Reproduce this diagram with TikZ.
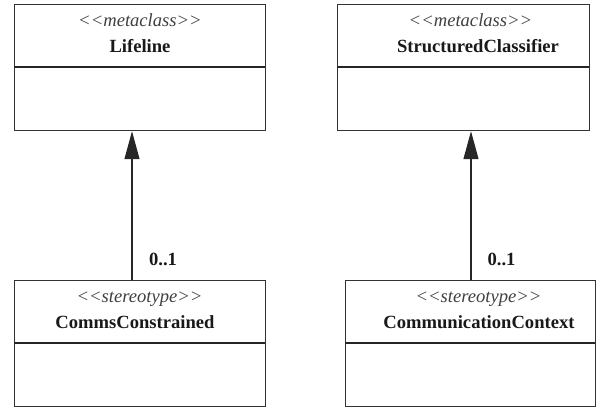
\documentclass[tikz,border=0pt]{standalone}
\usepackage{fontspec}
\setmainfont{Liberation Serif}
\usetikzlibrary{arrows.meta}
\newcommand{\guil}[1]{{<}{<}#1{>}{>}}
\begin{document}
\begin{tikzpicture}[x=1pt,y=-1pt,
  umlbox/.style={draw=black!80, line width=1.2pt, rectangle, inner sep=0pt, anchor=north west},
  divider/.style={draw=black!85, line width=1.2pt},
  kindtext/.style={anchor=base, inner sep=0pt, font=\fontsize{18.6}{22}\selectfont\itshape, text=black!75},
  nametext/.style={anchor=base, inner sep=0pt, font=\fontsize{18.6}{22}\selectfont\bfseries, text=black!90},
  multtext/.style={anchor=base, inner sep=0pt, font=\fontsize{18.6}{22}\selectfont\bfseries, text=black!90},
  extends/.style={draw=black!85, line width=1.2pt, -{Triangle[length=28pt,width=15pt]}}]
\useasboundingbox (0,0) rectangle (605,407);

% class boxes
\node[umlbox, minimum width=251pt, minimum height=126pt] (lifeline) at (14,4) {};
\node[umlbox, minimum width=252pt, minimum height=126pt] (structured) at (337,4) {};
\node[umlbox, minimum width=251pt, minimum height=126pt] (comms) at (14,280) {};
\node[umlbox, minimum width=250pt, minimum height=126pt] (context) at (345,280) {};

% compartment dividers
\draw[divider] (14,67) -- (265,67);
\draw[divider] (337,67) -- (589,67);
\draw[divider] (14,343) -- (265,343);
\draw[divider] (345,343) -- (595,343);

% names and keywords
\node[kindtext] (k1) at (140,26) {\guil{metaclass}};
\node[nametext] (n1) at (140,52) {Lifeline};
\node[kindtext] (k2) at (470.5,26) {\guil{metaclass}};
\node[nametext] (n2) at (478,52) {StructuredClassifier};
\node[kindtext] (k3) at (139.5,302) {\guil{stereotype}};
\node[nametext] (n3) at (135,328) {CommsConstrained};
\node[kindtext] (k4) at (478.5,302) {\guil{stereotype}};
\node[nametext] (n4) at (479,328) {CommunicationContext};

% extension connectors
\coordinate (xl) at (132,0);
\coordinate (xr) at (471,0);
\draw[extends] (comms.north -| xl) -- (lifeline.south -| xl);
\draw[extends] (context.north -| xr) -- (structured.south -| xr);

% multiplicities
\node[multtext] (m1) at (163,265) {0..1};
\node[multtext] (m2) at (501.5,265) {0..1};
\end{tikzpicture}
\end{document}
